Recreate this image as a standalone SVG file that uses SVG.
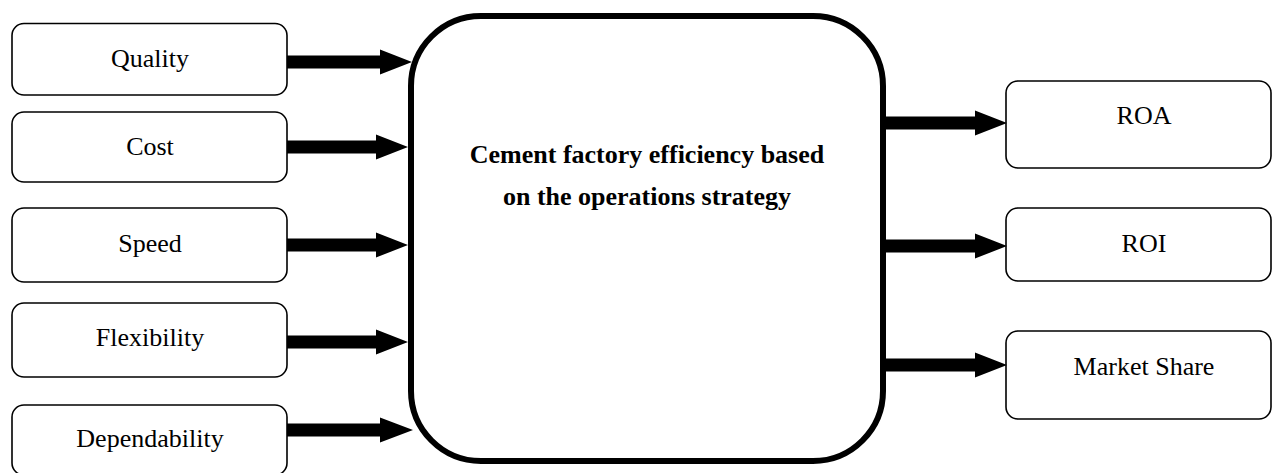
<svg xmlns="http://www.w3.org/2000/svg" width="1273" height="473" viewBox="0 0 1273 473">
<style>
.box{fill:#fff;stroke:#000;stroke-width:1.6}
.main{fill:#fff;stroke:#000;stroke-width:6}
.lbl{font-family:"Liberation Serif","Times New Roman",serif;font-size:26px;fill:#000;text-anchor:middle}
.bold{font-weight:bold}
.arr{fill:#000}
</style>
<rect width="1273" height="473" fill="#fff"/>
<g id="quality"><rect class="box" x="12" y="23.5" width="275" height="71.5" rx="12"/><text class="lbl" x="150" y="67">Quality</text></g>
<g id="cost"><rect class="box" x="12" y="112" width="275" height="70" rx="12"/><text class="lbl" x="150" y="155">Cost</text></g>
<g id="speed"><rect class="box" x="12" y="208" width="275" height="74" rx="12"/><text class="lbl" x="150" y="252">Speed</text></g>
<g id="flexibility"><rect class="box" x="12" y="303" width="275" height="74" rx="12"/><text class="lbl" x="150" y="346">Flexibility</text></g>
<g id="dependability"><rect class="box" x="12" y="405" width="275" height="70" rx="12"/><text class="lbl" x="150" y="447">Dependability</text></g>
<g id="main"><rect class="main" x="411" y="16" width="472" height="445" rx="70"/>
<text class="lbl bold" x="647" y="163">Cement factory efficiency based</text>
<text class="lbl bold" x="647" y="205">on the operations strategy</text></g>
<g id="roa"><rect class="box" x="1006" y="81" width="265" height="87" rx="12"/><text class="lbl" x="1144" y="124">ROA</text></g>
<g id="roi"><rect class="box" x="1006" y="208" width="265" height="73" rx="12"/><text class="lbl" x="1144" y="252">ROI</text></g>
<g id="marketshare"><rect class="box" x="1006" y="331" width="265" height="88" rx="12"/><text class="lbl" x="1144" y="375">Market Share</text></g>
<g id="connectors">
<polygon class="arr" points="287,55.5 380,55.5 380,49.5 412,62 380,74.5 380,68.5 287,68.5"/>
<polygon class="arr" points="287,140.5 376,140.5 376,134.5 408,147 376,159.5 376,153.5 287,153.5"/>
<polygon class="arr" points="287,238.5 376,238.5 376,232.5 408,245 376,257.5 376,251.5 287,251.5"/>
<polygon class="arr" points="287,335.5 376,335.5 376,329.5 408,342 376,354.5 376,348.5 287,348.5"/>
<polygon class="arr" points="287,423.5 380,423.5 380,417.5 413,430 380,442.5 380,436.5 287,436.5"/>
<polygon class="arr" points="883,116.5 975,116.5 975,110.5 1007,123 975,135.5 975,129.5 883,129.5"/>
<polygon class="arr" points="883,239.5 975,239.5 975,233.5 1007,246 975,258.5 975,252.5 883,252.5"/>
<polygon class="arr" points="883,358.5 975,358.5 975,352.5 1007,365 975,377.5 975,371.5 883,371.5"/>
</g>
</svg>
